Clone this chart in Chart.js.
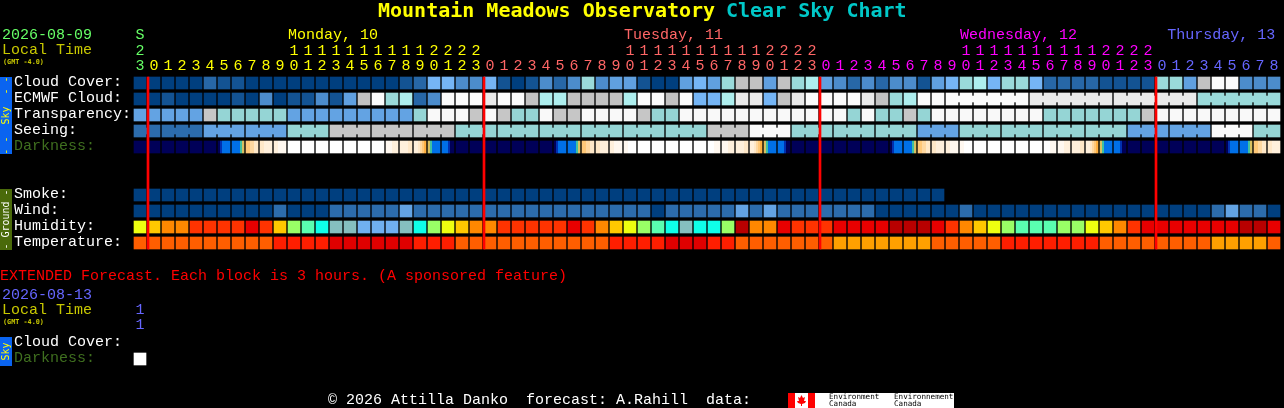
<!DOCTYPE html>
<html><head><meta charset="utf-8">
<style>html,body{margin:0;padding:0;background:#000;overflow:hidden}canvas{display:block}</style>
<script src="https://cdn.jsdelivr.net/npm/chart.js@4"></script>
</head><body><canvas id="c" width="1284" height="408"></canvas>
<script>
// ---------- data ----------
const hours=[23,0,1,2,3,4,5,6,7,8,9,10,11,12,13,14,15,16,17,18,19,20,21,22,23,0,1,2,3,4,5,6,7,8,9,10,11,12,13,14,15,16,17,18,19,20,21,22,23,0,1,2,3,4,5,6,7,8,9,10,11,12,13,14,15,16,17,18,19,20,21,22,23,0,1,2,3,4,5,6,7,8];
const cloudCover=[0,0,0,0,0,2,1,1,0,0,0,0,0,0,0,0,0,0,0,1,2,5,
 5,3,3,5,1,0,1,3,2,3,6,3,4,4,1,0,0,4,5,4,6,8,8,4,8,6,7,4,3,2,
 3,2,3,3,1,4,5,6,7,5,6,6,5,2,2,2,2,1,1,1,1,6,6,4,8,10,10,3,3,3];
const ecmwfCloud=[0,0,1,0,0,0,0,1,0,3,0,1,1,3,1,4,8,10,6,7,2,3,
 10,10,10,9,10,10,8,7,7,8,8,8,8,7,10,10,8,10,5,5,7,9,9,5,8,9,10,10,10,10,
 9,8,6,7,10,10,10,10,10,10,10,10,9,9,9,9,9,9,9,9,9,9,9,9,6,6,6,6,6,6];
const transparency=[2,2,2,2,2,4,3,3,3,3,3,2,2,2,2,2,2,2,2,2,3,5,
 5,5,4,5,4,3,3,5,4,4,5,5,5,5,4,3,3,5,5,5,5,5,5,5,5,5,5,5,5,3,
 5,3,3,4,3,5,5,5,5,5,5,5,5,3,3,3,3,3,3,3,4,5,5,5,5,5,5,5,5,5];
const seeing=[1,1,1,1,1,2,2,2,2,2,2,3,3,3,4,4,4,4,4,4,4,4,4,3,3,3,3,3,3,3,3,3,3,3,3,3,3,3,3,3,3,4,4,4,5,5,5,3,3,3,3,3,3,3,3,3,2,2,2,3,3,3,3,3,3,3,3,3,3,3,3,2,2,2,2,2,2,5,5,5,3,3];
const seeingBlockStarts=[0,2,5,8,11,14,17,20,23,26,29,32,35,38,41,44,47,50,53,56,59,62,65,68,71,74,77,80];
const ecmwfBlockStarts=[58,64,70,76];
const darkness=['nnnnnn','nnnnnn','nnnnnn','nnnnnn','nnnnnn','nnnnnn','ndbbbb','bbbbty','554433','332222','221111',
 'wwwwww','wwwwww','wwwwww','wwwwww','wwwwww','wwwwww','wwwwww','111222','222233','223456','ytbbbb','bbbdnn',
 'nnnnnn','nnnnnn','nnnnnn','nnnnnn','nnnnnn','nnnnnn','nnnnnn','ndbbbb','bbbbty','554433','332222','221111','11wwww',
 'wwwwww','wwwwww','wwwwww','wwwwww','wwwwww','www111','111222','222233','223456','ytbbbb','bbbdnn',
 'nnnnnn','nnnnnn','nnnnnn','nnnnnn','nnnnnn','nnnnnn','nnnnnn','ndbbbb','bbbbty','554433','332222','221111','11wwww',
 'wwwwww','wwwwww','wwwwww','wwwwww','wwwwww','www111','111222','222233','223456','ytbbbb','bbbdnn',
 'nnnnnn','nnnnnn','nnnnnn','nnnnnn','nnnnnn','nnnnnn','nnnnnn','ndbbbb','bbbbty','554433','332222'];
const smoke=[0,0,0,0,0,0,0,0,0,0,0,0,0,0,0,0,0,0,0,0,0,0,0,0,0,0,0,0,0,0,0,0,0,0,0,0,0,0,0,0,0,0,0,0,0,0,0,0,0,0,0,0,0,0,0,0,0,0];
const wind=[0,0,0,0,0,0,0,0,0,0,1,0,0,0,1,1,1,1,1,2,1,1,
 1,1,1,1,1,1,1,1,1,1,1,1,1,1,1,0,1,1,1,1,1,2,1,2,1,1,1,1,1,1,
 1,0,0,0,0,0,0,1,0,0,0,0,0,0,0,0,0,0,0,0,0,0,0,0,0,1,2,1,1,0];
const humidity=[5,6,7,7,8,8,8,8,9,8,6,4,3,2,1,1,0,0,0,1,2,4,
 5,6,7,7,8,8,8,8,8,9,8,7,6,5,4,3,2,1,2,2,4,10,7,7,9,8,8,8,9,9,
 9,9,10,10,10,9,8,7,6,5,4,3,3,3,4,4,5,6,7,8,9,9,9,9,9,9,9,10,10,9];
const temperature=[2,2,2,2,2,2,2,2,2,2,1,1,1,1,0,0,0,0,0,0,1,1,
 1,2,2,2,2,2,2,2,2,2,2,2,1,1,1,1,0,0,0,1,1,2,2,2,2,2,2,2,3,3,
 3,3,3,3,3,2,2,2,2,2,1,1,1,1,1,1,1,2,2,2,2,2,2,2,2,3,3,3,3,2];
const extDarkness=['wwwwww'];
const midnightCols=[1,25,49,73];
const rowLabels=['Cloud Cover:','ECMWF Cloud:','Transparency:','Seeing:','Darkness:','Smoke:','Wind:','Humidity:','Temperature:','Cloud Cover:','Darkness:'];
const rowSlots=[0,1,2,3,4,7,8,9,10,16.25,17.25];
const dayNames=[['Monday, 10',11],['Tuesday, 11',35],['Wednesday, 12',59],['Thursday, 13',73.8]];

// ---------- palettes ----------
const cloudPal=['#003f7f','#135393','#2767a7','#4c8ccc','#60a0e0','#75b5f5','#9adada','#aeeeee','#c2c2c2','#eaeaea','#fbfbfb'];
const skyPal=['#003f7f','#2c6cac','#63a3e3','#95d5d5','#c6c6c6','#f9f9f9'];
const humPal=['#70b0f0','#85bfbf','#0fffe8','#5affb0','#99ff66','#eeff10','#ffc800','#ff8800','#ff3300','#e80000','#b80000'];
const tempPal=['#e00000','#ff1e00','#ff5e00','#ffa000'];
const darkPal={n:'#000058',d:'#0030b0',b:'#0070e8',t:'#40c0a0',y:'#d8c060',w:'#ffffff',1:'#fff8f0',2:'#fff0dc',3:'#ffe8c8',4:'#ffd8a0',5:'#ffc878',6:'#ffb040'};
const MONO='"Liberation Mono",monospace',BOLD='"DejaVu Sans Mono",monospace';
const GREEN='#66ff66',YEL='#ffff00',SALMON='#ff6666',MAG='#ff00ff',VIO='#6666ff',OLIVE='#c8c800';
const rowH=0.375,linkH=0.1875,linkX=0.5,labelLift=0.09;
const colColor=i=>i===0?GREEN:i<25?YEL:i<49?SALMON:i<73?MAG:VIO;

// ---------- datasets ----------
function row(name,values,slot,pal){return {label:name,order:2,barThickness:12,grouped:false,borderWidth:0,borderSkipped:false,
  data:values.map((v,i)=>({x:i,y:[slot-rowH,slot+rowH]})),backgroundColor:values.map(v=>pal[v])};}
function links(name,values,slot,pal,starts){const d=[],c=[];
  starts.forEach((s,n)=>{const e=n+1<starts.length?starts[n+1]-1:values.length-1;
    for(let i=s;i<e;i++){d.push({x:i+linkX,y:[slot-linkH,slot+linkH]});c.push(pal[values[i]]);}});
  return {label:name,order:2,barThickness:2,grouped:false,borderWidth:0,borderSkipped:false,data:d,backgroundColor:c};}
function darkRow(name,cells,slot){return {label:name,order:2,barThickness:12,grouped:false,borderWidth:0,borderSkipped:false,
  data:cells.map((v,i)=>({x:i,y:[slot-rowH,slot+rowH]})),
  backgroundColor(ctx){const ch=ctx.chart,sc=ch.scales.x;if(!sc||ctx.dataIndex==null)return '#000';
    const p=sc.getPixelForValue(ctx.dataIndex),s=cells[ctx.dataIndex];if(!isFinite(p)||!s)return '#000';
    const g=ch.ctx.createLinearGradient(p-6,0,p+6,0);
    for(let k=0;k<s.length;k++){g.addColorStop(k/s.length,darkPal[s[k]]);g.addColorStop((k+1)/s.length,darkPal[s[k]]);}
    return g;}};}
const datasets=[
 row('Cloud Cover',cloudCover,0,cloudPal),
 row('ECMWF Cloud',ecmwfCloud,1,cloudPal),links('ECMWF links',ecmwfCloud,1,cloudPal,ecmwfBlockStarts),
 row('Transparency',transparency,2,skyPal),
 row('Seeing',seeing,3,skyPal),links('Seeing links',seeing,3,skyPal,seeingBlockStarts),
 darkRow('Darkness',darkness,4),
 row('Smoke',smoke,7,skyPal),row('Wind',wind,8,skyPal),row('Humidity',humidity,9,humPal),row('Temperature',temperature,10,tempPal),
 darkRow('Extended Darkness',extDarkness,17.25),
 {label:'Midnight',order:1,barThickness:2,grouped:false,borderWidth:0,borderSkipped:false,backgroundColor:'#ff0000',
  data:midnightCols.map(c=>({x:c-0.5+1/14,y:[-rowH,10+rowH]}))}
];

// ---------- texts, strips, logo ----------
const furniture={id:'furniture',afterDraw(ch){
 const c=ch.ctx,sx=ch.scales.x;
 const t=(s,x,y,col,font)=>{c.font=font||('15px '+MONO);c.fillStyle=col;c.fillText(s,x,y);};
 c.save();c.textBaseline='middle';c.textAlign='left';
 t('Mountain Meadows Observatory',378,11.5,YEL,'bold 20px '+BOLD);
 t('Clear Sky Chart',726,11.5,'#00c8c8','bold 20px '+BOLD);
 t('2026-08-09',2,35,GREEN);t('Local Time',2,50,OLIVE);t('(GMT -4.0)',3,62,OLIVE,'bold 6.8px '+BOLD);
 t('S',sx.getPixelForValue(0)-4.5,35,GREEN);
 [[dayNames[0],YEL],[dayNames[1],SALMON],[dayNames[2],MAG],[dayNames[3],VIO]].forEach(([d,col])=>t(d[0],sx.getPixelForValue(d[1])-6,35,col));
 t('EXTENDED Forecast. Each block is 3 hours. (A sponsored feature)',0,276,'#ff0000');
 t('2026-08-13',2,295,VIO);t('Local Time',2,310,OLIVE);t('(GMT -4.0)',3,322,OLIVE,'bold 6.8px '+BOLD);
 t('1',sx.getPixelForValue(0)-4.5,310,VIO);t('1',sx.getPixelForValue(0)-4.5,325,VIO);
 t('\u00a9 2026 Attilla Danko  forecast: A.Rahill  data:',328,400,'#ffffff');
 // side strips
 const strip=(y0,y1,bg,fg,s)=>{c.fillStyle=bg;c.fillRect(0,y0,12,y1-y0);c.save();c.translate(6,(y0+y1)/2);c.rotate(-Math.PI/2);
   c.textAlign='center';c.fillStyle=fg;c.font='10px '+BOLD;c.fillText(s,0,0.5);c.restore();};
 strip(77,154,'#0a64f0',YEL,'- -  Sky  - -');
 strip(189,250,'#4a6a0a','#ffffff','- Ground -');
 strip(337,366,'#0a64f0',YEL,'Sky');
 // logo
 c.fillStyle='#ffffff';c.fillRect(788,393,166,15);
 c.fillStyle='#ff0000';c.fillRect(788,393,7,15);c.fillRect(808,393,7,15);
 c.beginPath();[[801.5,395],[803,398],[805,397],[804,401],[806,401],[805,403],[802,404],[802,406],[801,406],[801,404],[798,403],[797,401],[799,401],[798,397],[800,398]].forEach((p,i)=>i?c.lineTo(p[0],p[1]):c.moveTo(p[0],p[1]));c.closePath();c.fill();
 const f='7.6px '+BOLD;
 t('Environment',829,397.5,'#000',f);t('Canada',829,404.5,'#000',f);t('Environnement',894,397.5,'#000',f);t('Canada',894,404.5,'#000',f);
 c.restore();
}};

new Chart(document.getElementById('c'),{type:'bar',data:{datasets},plugins:[furniture],options:{
 responsive:false,animation:false,devicePixelRatio:1,
 layout:{padding:{left:14,right:3,top:0,bottom:0}},
 plugins:{legend:{display:false},tooltip:{enabled:false},title:{display:false}},
 scales:{
  x:{type:'linear',position:'top',min:-0.5,max:81.5,offset:false,grid:{display:false},border:{display:false},
   afterFit(s){s.height=72;s.paddingLeft=0;s.paddingRight=0;},
   afterBuildTicks(s){s.ticks=hours.map((h,i)=>({value:i}));},
   ticks:{autoSkip:false,maxRotation:0,minRotation:0,padding:-10,font:{family:MONO,size:15,lineHeight:1},
    color:ctx=>colColor(ctx.index),
    callback(v,i){const h=hours[i];return h>=10?[String(Math.floor(h/10)),String(h%10)]:['',String(h)];}}},
  y:{type:'linear',reverse:true,min:-0.6875,max:20.3125,grid:{display:false},border:{display:false},
   afterFit(s){s.width=119;s.paddingTop=0;s.paddingBottom=0;},
   afterBuildTicks(s){s.ticks=rowSlots.map(v=>({value:v-labelLift}));},
   ticks:{autoSkip:false,crossAlign:'far',padding:0,font:{family:MONO,size:15,lineHeight:1},
    color:ctx=>rowLabels[ctx.index]==='Darkness:'?'#3f6f1f':'#ffffff',
    callback(v,i){return rowLabels[i];}}}
 }}});
</script></body></html>
